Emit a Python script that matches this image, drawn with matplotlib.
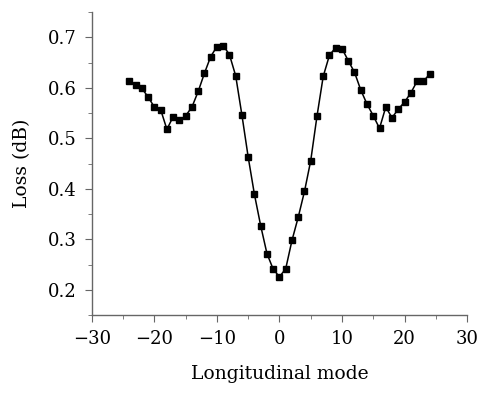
import matplotlib
matplotlib.use("Agg")
import matplotlib.pyplot as plt
from matplotlib.ticker import MultipleLocator

# longitudinal mode index and measured loss
modes = list(range(-24, 25))
loss = [0.613, 0.606, 0.599, 0.582, 0.562, 0.557, 0.518, 0.543, 0.536, 0.545,
        0.562, 0.593, 0.629, 0.662, 0.682, 0.684, 0.666, 0.624, 0.546, 0.463,
        0.389, 0.327, 0.272, 0.241, 0.226, 0.242, 0.298, 0.344, 0.395, 0.456,
        0.544, 0.623, 0.665, 0.680, 0.678, 0.654, 0.631, 0.596, 0.568, 0.545,
        0.520, 0.562, 0.541, 0.558, 0.572, 0.590, 0.613, 0.613, 0.627]

plt.rcParams['font.family'] = ['DejaVu Serif']

fig = plt.figure(figsize=(4.81, 3.93), dpi=100)
ax = fig.add_axes([0.191, 0.198, 0.78, 0.771])

ax.plot(modes, loss, color='black', lw=1.1, marker='s', ms=4.2)

ax.set_xlim(-30, 30)
ax.set_ylim(0.15, 0.75)
ax.xaxis.set_minor_locator(MultipleLocator(5))
ax.yaxis.set_minor_locator(MultipleLocator(0.05))
ax.set_xticks([-30, -20, -10, 0, 10, 20, 30])
ax.set_xticklabels(['\u221230', '\u221220', '\u221210', '0', '10', '20', '30'])
ax.set_yticks([0.2, 0.3, 0.4, 0.5, 0.6, 0.7])

for s in ['top', 'right']:
    ax.spines[s].set_visible(False)
for s in ['left', 'bottom']:
    ax.spines[s].set_color('#666666')
    ax.spines[s].set_linewidth(1.0)

ax.tick_params(which='major', direction='out', length=5, color='#666666', labelsize=13, pad=6)
ax.tick_params(which='minor', direction='out', length=3, color='#666666')

ax.set_xlabel('Longitudinal mode', fontsize=13.5, labelpad=12)
ax.set_ylabel('Loss (dB)', fontsize=13.5, labelpad=12)

fig.savefig('out.png', dpi=100)
